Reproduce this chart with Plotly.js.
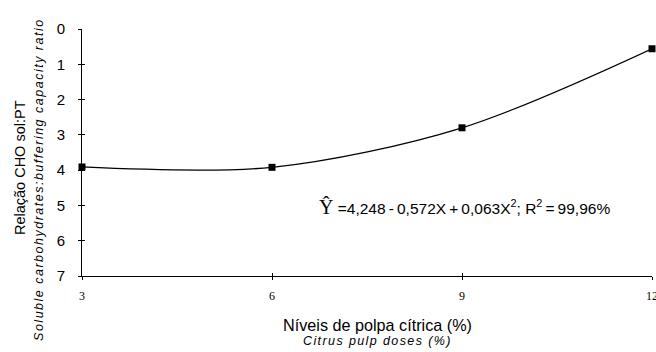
<!DOCTYPE html>
<html>
<head>
<meta charset="utf-8">
<script src="https://cdn.plot.ly/plotly-3.0.1.min.js"></script>
<style>html,body{margin:0;padding:0;background:#fff;}#chart{width:656px;height:352px;}</style>
</head>
<body>
<div id="chart"></div>
<script>
// Data
const doses = [3, 6, 9, 12];
const ratio = [3.91, 3.92, 2.80, 0.56];
const xTicks = [3, 6, 9, 12];
const yTicks = [0, 1, 2, 3, 4, 5, 6, 7];

const yTitleMain = 'Relação CHO sol:PT';
const yTitleSub = 'Soluble carbohydrates:buffering capacity ratio';
const xTitleMain = 'Níveis de polpa cítrica (%)';
const xTitleSub = 'Citrus pulp doses (%)';
const ts = '\u2009';
const equation = '<span style="font-family:\'Liberation Serif\';font-size:20px">Ŷ</span> =4,248' + ts + '-' + ts + '0,572X' + ts + '+' + ts +
  '0,063X<sup>2</sup>; R<sup>2</sup>' + ts + '=' + ts + '99,96%';

const sans = 'Liberation Sans, Arial, sans-serif';
const serif = 'Liberation Serif, Times New Roman, serif';

const traces = [
  {
    x: doses, y: ratio, type: 'scatter', mode: 'lines+markers',
    line: {shape: 'spline', smoothing: 0.9, color: '#000', width: 1.3},
    marker: {symbol: 'square', size: 7, color: '#000'},
    cliponaxis: false, hoverinfo: 'skip', showlegend: false
  },
  {
    x: doses, y: ratio, xaxis: 'x2', yaxis: 'y2', type: 'scatter', mode: 'markers',
    marker: {opacity: 0, size: 1}, hoverinfo: 'skip', showlegend: false
  }
];

const baseX = {range: [3, 12], tickvals: xTicks, showgrid: false, zeroline: false,
  showline: true, linecolor: '#000', linewidth: 1, ticklen: 3, tickcolor: '#000', tickwidth: 1};
const baseY = {range: [7, 0], tickvals: yTicks, showgrid: false, zeroline: false,
  showline: true, linecolor: '#000', linewidth: 1, ticklen: 3, tickcolor: '#000', tickwidth: 1};

const layout = {
  width: 656, height: 352,
  margin: {l: 82, r: 4, t: 29, b: 76},
  paper_bgcolor: '#fff', plot_bgcolor: '#fff',
  showlegend: false,
  xaxis: Object.assign({}, baseX, {ticks: 'outside', tickfont: {family: serif, size: 12, color: '#000'},
    ticklabelstandoff: 6, ticklabeloverflow: 'allow'}),
  yaxis: Object.assign({}, baseY, {ticks: 'outside', tickfont: {family: sans, size: 15, color: '#000'}, ticklabelstandoff: 10}),
  xaxis2: Object.assign({}, baseX, {overlaying: 'x', anchor: 'y2', side: 'bottom', ticks: 'inside', showticklabels: false}),
  yaxis2: Object.assign({}, baseY, {overlaying: 'y', anchor: 'x2', side: 'left', ticks: 'inside', showticklabels: false}),
  annotations: [
    {text: yTitleMain, xref: 'paper', yref: 'paper', x: -0.1088, y: 0.441, textangle: -90,
     xanchor: 'center', yanchor: 'middle', showarrow: false, font: {family: sans, size: 14.5, color: '#000'}},
    {text: '<i><span style="letter-spacing:1.5px">' + yTitleSub + '</span></i>', xref: 'paper', yref: 'paper', x: -0.0754, y: 0.389, textangle: -90,
     xanchor: 'center', yanchor: 'middle', showarrow: false, font: {family: sans, size: 12.5, color: '#000'}},
    {text: xTitleMain, xref: 'paper', yref: 'paper', x: 0.519, y: -0.198,
     xanchor: 'center', yanchor: 'middle', showarrow: false, font: {family: sans, size: 16.2, color: '#000'}},
    {text: '<i><span style="letter-spacing:1.4px">' + xTitleSub + '</span></i>', xref: 'paper', yref: 'paper', x: 0.519, y: -0.263,
     xanchor: 'center', yanchor: 'middle', showarrow: false, font: {family: sans, size: 12.5, color: '#000'}},
    {text: equation, xref: 'paper', yref: 'paper', x: 0.412, y: 0.279,
     xanchor: 'left', yanchor: 'middle', showarrow: false, font: {family: sans, size: 15.5, color: '#000'}}
  ]
};

Plotly.newPlot('chart', traces, layout, {staticPlot: true, displayModeBar: false});
</script>
</body>
</html>
